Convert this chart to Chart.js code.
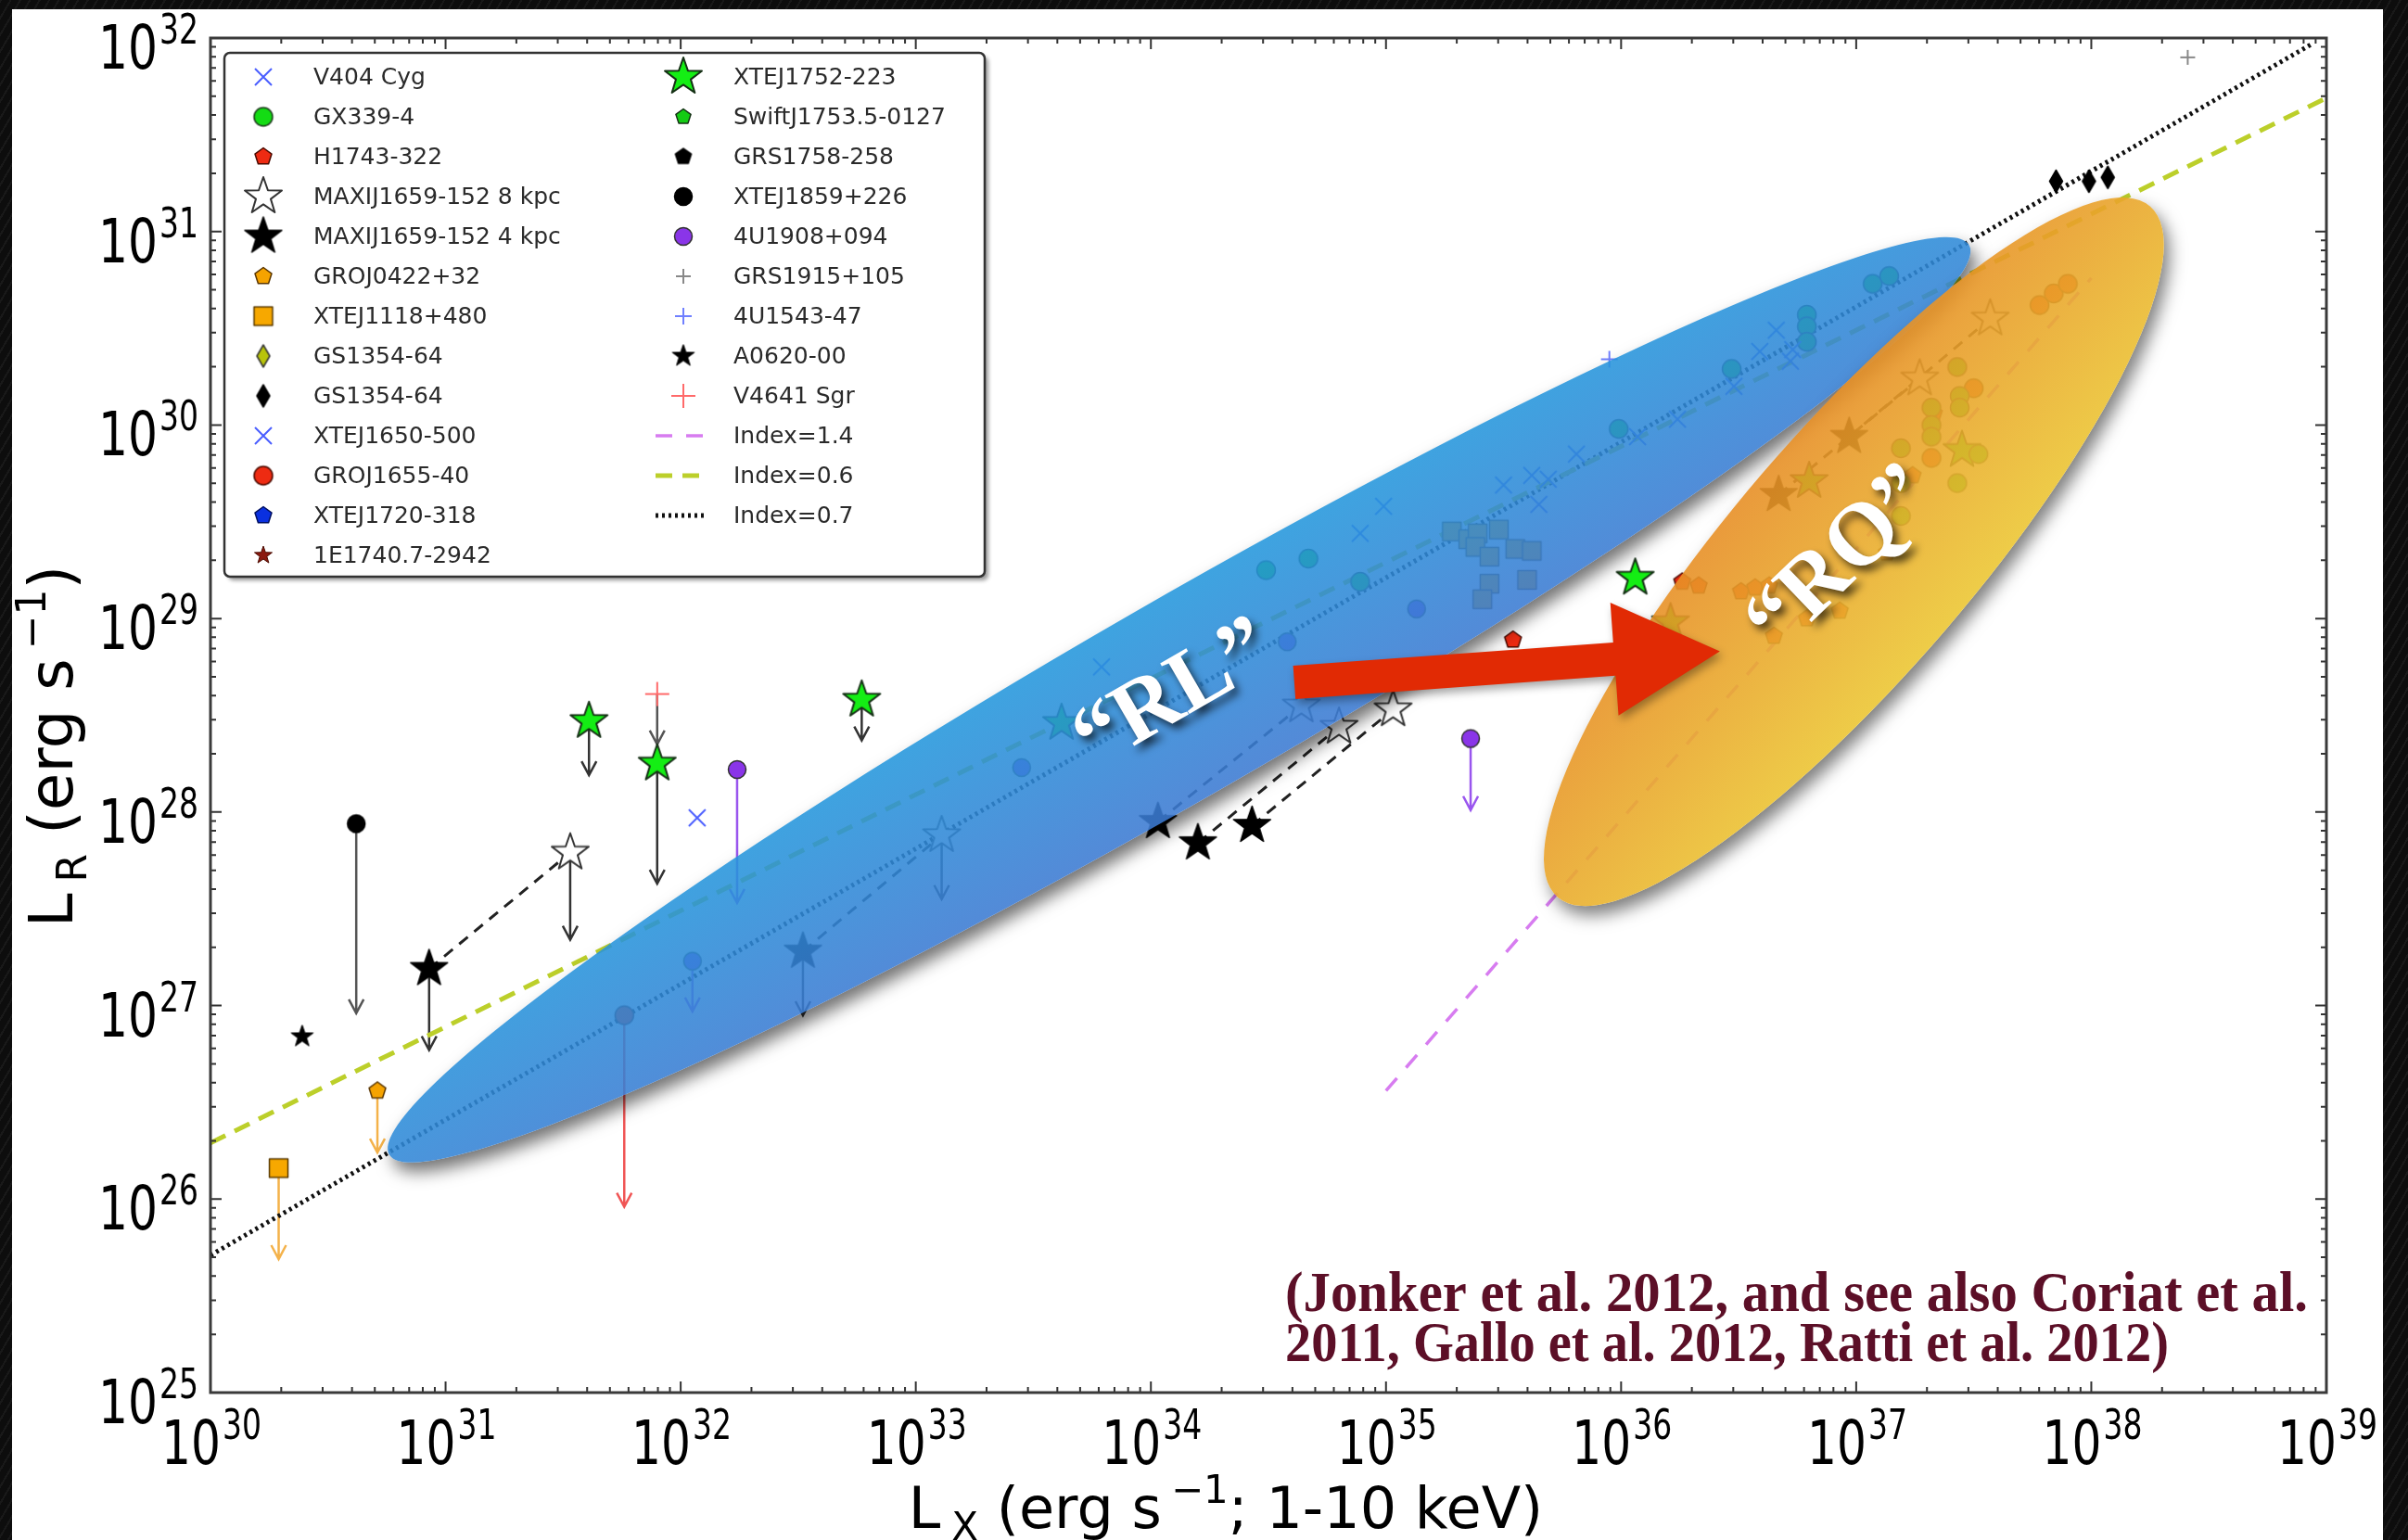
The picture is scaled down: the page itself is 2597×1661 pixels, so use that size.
<!DOCTYPE html>
<html>
<head>
<meta charset="utf-8">
<title>Radio / X-ray luminosity</title>
<script src="https://cdn.jsdelivr.net/npm/chart.js@4.4.1/dist/chart.umd.min.js"></script>
<style>
  html, body { margin: 0; padding: 0; }
  body {
    width: 2597px; height: 1661px; overflow: hidden;
    background-color: #0d0d0d;
    background-image: repeating-linear-gradient(120deg, rgba(255,255,255,0.05) 0 2px, transparent 2px 9px);
  }
  canvas { position: absolute; left: 0; top: 0; }
</style>
</head>
<body>
<canvas id="chart" width="2597" height="1661"></canvas>
<script>
// values are log10 of the luminosities:
// [log Lx, log Lr] or [log Lx, log Lr, log Lr at the tip of the upper-limit arrow]
const v404Cyg = [[33.79,28.75],[34.89,29.44],[34.99,29.58],[35.50,29.69],[35.62,29.74],[35.69,29.72],[35.65,29.59],[35.81,29.85],[36.07,29.94],[36.24,30.03],[36.48,30.20],[36.59,30.38],[36.66,30.49],[36.73,30.39],[36.72,30.33]];
const gx339 = [[34.49,29.25],[34.67,29.31],[34.89,29.19],[35.99,29.98],[36.47,30.29],[36.79,30.57],[36.79,30.51],[36.79,30.43],[37.07,30.73],[37.14,30.77],
  [37.43,30.30],[37.44,30.15],[37.44,30.09],[37.32,30.09],[37.32,30.00],[37.32,29.94],[37.19,29.88],[37.19,29.70],[37.43,29.70],[37.19,29.53],[37.52,29.85]];
const h1743 = [[35.54,28.89],[36.26,29.19],[36.33,29.17],[36.51,29.14],[36.57,29.16],[36.63,29.17],[36.79,29.00],[36.93,29.04],[36.65,28.91],[37.13,29.34],[37.24,29.74],[37.33,30.06]];
const maxi8 = [[31.53,27.79,27.34],[33.11,27.88,27.55],[34.64,28.55],[34.80,28.44],[35.03,28.53],[37.27,30.24],[37.57,30.55]];
const maxi4 = [[30.93,27.19,26.77],[32.52,27.28,26.95],[34.03,27.95],[34.20,27.84],[34.43,27.93],[36.67,29.64],[36.97,29.94]];
const groj0422 = [[30.71,26.56,26.24]];
const xte1118 = [[30.29,26.16,25.69],[35.28,29.45],[35.35,29.41],[35.39,29.44],[35.48,29.46],[35.38,29.37],[35.44,29.32],[35.55,29.36],[35.62,29.35],[35.44,29.18],[35.60,29.20],[35.41,29.10]];
const gs1354Olive = [];
const gs1354Black = [[37.85,31.26],[37.99,31.26],[38.07,31.28]];
const xte1650 = [[32.07,27.97]];
const groj1655 = [[31.76,26.95,25.96],[37.32,29.83],[37.50,30.19],[37.78,30.62],[37.84,30.68],[37.90,30.73]];
const xte1720 = [];
const e1740 = [];
const xte1752 = [[31.61,28.47,28.19],[31.90,28.25,27.63],[32.77,28.58,28.37],[33.62,28.46],[36.06,29.21],[36.21,28.98],[36.80,29.71],[37.45,29.87]];
const swift1753 = [];
const grs1758 = [];
const xte1859 = [[30.62,27.94,26.96]];
const u1908 = [[32.24,28.22,27.53],[35.36,28.38,28.01],[32.05,27.23,26.97],[35.13,29.05],[33.45,28.23],[34.58,28.88]];
const grs1915 = [[38.41,31.90]];
const u1543 = [[35.95,30.34]];
const a0620 = [[30.39,26.84]];
const v4641 = [[31.90,28.61,28.35]];

// correlation lines (end points)
const index14 = [[35.00,26.56],[38.00,30.76]];
const index06 = [[30.00,26.29],[39.00,31.69]];
const index07 = [[30.00,25.71],[38.94,31.97]];

const xDecades = [30,31,32,33,34,35,36,37,38,39];
const yDecades = [25,26,27,28,29,30,31,32];

// shaded regions, arrow and their labels, placed in (log) data space
const rlRegion = [[30.76,26.23],[37.48,30.93]];
const rqRegion = [[35.73,27.56],[38.25,31.13]];
const shiftArrow = [[34.61,28.67],[36.42,28.83]];
const rlLabelAt = [34.10,28.60];
const rqLabelAt = [36.94,29.30];

const W = 2597, H = 1661;
const SANS = '"DejaVu Sans"';

const pts = arr => arr.map(p => ({x: 10 ** p[0], y: 10 ** p[1], lim: p.length > 2 ? 10 ** p[2] : null}));

function marker(shape, r, fill, stroke, lw) {
  const c = document.createElement('canvas');
  c.width = c.height = Math.ceil(2 * (r + lw + 2));
  const g = c.getContext('2d');
  g.translate(c.width / 2, c.height / 2);
  g.lineWidth = lw;
  g.lineJoin = 'round';
  g.strokeStyle = stroke;
  g.beginPath();
  if (shape === 'x' || shape === 'plus') {
    if (shape === 'x') { g.moveTo(-r, -r); g.lineTo(r, r); g.moveTo(r, -r); g.lineTo(-r, r); }
    else { g.moveTo(-r, 0); g.lineTo(r, 0); g.moveTo(0, -r); g.lineTo(0, r); }
    g.stroke();
    return c;
  }
  if (shape === 'circle') g.arc(0, 0, r, 0, Math.PI * 2);
  else if (shape === 'square') g.rect(-r, -r, 2 * r, 2 * r);
  else if (shape === 'diamond') { g.moveTo(0, -r); g.lineTo(r * 0.58, 0); g.lineTo(0, r); g.lineTo(-r * 0.58, 0); g.closePath(); }
  else {
    const n = shape === 'star' ? 10 : 5;
    for (let i = 0; i < n; i++) {
      const rr = (shape === 'star' && i % 2) ? r * 0.4 : r;
      const a = -Math.PI / 2 + i * 2 * Math.PI / n;
      g.lineTo(rr * Math.cos(a), rr * Math.sin(a));
    }
    g.closePath();
  }
  g.fillStyle = fill;
  g.fill();
  g.stroke();
  return c;
}

const series = [
  {label: 'V404 Cyg', data: v404Cyg, mk: marker('x', 9, null, '#4a5eff', 2), col: 0},
  {label: 'GX339-4', data: gx339, mk: marker('circle', 10, '#14dc14', '#1d3a1d', 1.5), col: 0},
  {label: 'H1743-322', data: h1743, mk: marker('pentagon', 9.5, '#ee2b12', '#4a0a00', 1.5), col: 0},
  {label: 'MAXIJ1659-152 8 kpc', data: maxi8, mk: marker('star', 21, '#ffffff', '#333333', 2), col: 0, arrow: '#333'},
  {label: 'MAXIJ1659-152 4 kpc', data: maxi4, mk: marker('star', 21, '#000000', '#000000', 1.5), col: 0, arrow: '#333'},
  {label: 'GROJ0422+32', data: groj0422, mk: marker('pentagon', 9.5, '#f5a300', '#5a3600', 1.5), col: 0, arrow: '#f4b24a'},
  {label: 'XTEJ1118+480', data: xte1118, mk: marker('square', 10, '#f7a800', '#5a3a00', 1.5), col: 0, arrow: '#f4b24a'},
  {label: 'GS1354-64', data: gs1354Olive, mk: marker('diamond', 12, '#b8c40a', '#333333', 1.5), col: 0},
  {label: 'GS1354-64', data: gs1354Black, mk: marker('diamond', 12, '#000000', '#000000', 1.5), col: 0},
  {label: 'XTEJ1650-500', data: xte1650, mk: marker('x', 9, null, '#4a5eff', 2), col: 0},
  {label: 'GROJ1655-40', data: groj1655, mk: marker('circle', 10, '#ee2b12', '#4a0a00', 1.5), col: 0, arrow: '#f05555'},
  {label: 'XTEJ1720-318', data: xte1720, mk: marker('pentagon', 9.5, '#0a30e0', '#001060', 1.5), col: 0},
  {label: '1E1740.7-2942', data: e1740, mk: marker('star', 10, '#8b1a10', '#4a0a00', 1), col: 0},
  {label: 'XTEJ1752-223', data: xte1752, mk: marker('star', 21, '#14ee14', '#153015', 2), col: 1, arrow: '#333'},
  {label: 'SwiftJ1753.5-0127', data: swift1753, mk: marker('pentagon', 8.5, '#14cc14', '#153015', 1.5), col: 1},
  {label: 'GRS1758-258', data: grs1758, mk: marker('pentagon', 9, '#000000', '#000000', 1.5), col: 1},
  {label: 'XTEJ1859+226', data: xte1859, mk: marker('circle', 9.5, '#000000', '#000000', 1.5), col: 1, arrow: '#555'},
  {label: '4U1908+094', data: u1908, mk: marker('circle', 9.5, '#8a35e8', '#333333', 1.5), col: 1, arrow: '#9955ee'},
  {label: 'GRS1915+105', data: grs1915, mk: marker('plus', 8, null, '#888888', 2), col: 1},
  {label: '4U1543-47', data: u1543, mk: marker('plus', 9, null, '#7080ff', 2), col: 1},
  {label: 'A0620-00', data: a0620, mk: marker('star', 12.5, '#000000', '#000000', 1), col: 1},
  {label: 'V4641 Sgr', data: v4641, mk: marker('plus', 13, null, '#ff6a6a', 2), col: 1, arrow: '#555'}
];

const datasets = series.map(s => ({
  label: s.label, data: pts(s.data), pointStyle: s.mk, pointRadius: 8,
  arrowColor: s.arrow, legendCol: s.col, order: 1
}));

const line = (label, arr, color, dash, width) => ({
  label, data: pts(arr), showLine: true, borderColor: color, borderDash: dash,
  borderWidth: width, borderCapStyle: 'butt', pointRadius: 0, legendCol: 1, legendLine: true, order: 3
});
datasets.push(line('Index=1.4', index14, '#d77cf0', [18, 15], 3.5));
datasets.push(line('Index=0.6', index06, '#bccf2a', [18, 11], 5));
datasets.push(line('Index=0.7', index07, '#111111', [3, 4], 5));

// dashed links between the 4 kpc and 8 kpc versions of each MAXI J1659 point
maxi4.forEach((p, i) => {
  datasets.push({
    label: 'link', data: pts([p.slice(0, 2), maxi8[i].slice(0, 2)]), showLine: true,
    borderColor: '#222', borderDash: [12, 9], borderWidth: 3, pointRadius: 0, order: 2
  });
});

const toPx = (chart, p) => [chart.scales.x.getPixelForValue(10 ** p[0]), chart.scales.y.getPixelForValue(10 ** p[1])];

function region(chart, tips, b) {
  const [x1, y1] = toPx(chart, tips[0]);
  const [x2, y2] = toPx(chart, tips[1]);
  const cx = (x1 + x2) / 2, cy = (y1 + y2) / 2, ang = Math.atan2(y2 - y1, x2 - x1);
  const path = new Path2D();
  path.ellipse(cx, cy, Math.hypot(x2 - x1, y2 - y1) / 2, b, ang, 0, Math.PI * 2);
  return {path, cx, cy, ang, b};
}

function dropShadow(ctx, path, dx, dy, blur, color) {
  ctx.save();
  const outside = new Path2D();
  outside.rect(0, 0, W, H);
  outside.addPath(path);
  ctx.clip(outside, 'evenodd');
  const moved = new Path2D();
  moved.addPath(path, new DOMMatrix().translate(-4000, 0));
  ctx.shadowColor = color;
  ctx.shadowBlur = blur;
  ctx.shadowOffsetX = 4000 + dx;
  ctx.shadowOffsetY = dy;
  ctx.fillStyle = '#000';
  ctx.fill(moved);
  ctx.restore();
}

function shade(ctx, e, c1, c2, alpha) {
  const nx = Math.sin(e.ang), ny = -Math.cos(e.ang);
  const g = ctx.createLinearGradient(e.cx + nx * e.b, e.cy + ny * e.b, e.cx - nx * e.b, e.cy - ny * e.b);
  g.addColorStop(0, c1);
  g.addColorStop(1, c2);
  ctx.save();
  ctx.globalAlpha = alpha;
  ctx.fillStyle = g;
  ctx.fill(e.path);
  ctx.restore();
}

function drawShiftArrow(ctx, chart) {
  const [x1, y1] = toPx(chart, shiftArrow[0]);
  const [x2, y2] = toPx(chart, shiftArrow[1]);
  const len = Math.hypot(x2 - x1, y2 - y1);
  const shaft = 18, headW = 61, headL = 114;
  ctx.save();
  ctx.translate(x1, y1);
  ctx.rotate(Math.atan2(y2 - y1, x2 - x1));
  ctx.beginPath();
  ctx.moveTo(0, -shaft); ctx.lineTo(len - headL, -shaft); ctx.lineTo(len - headL, -headW);
  ctx.lineTo(len, 0); ctx.lineTo(len - headL, headW); ctx.lineTo(len - headL, shaft); ctx.lineTo(0, shaft);
  ctx.closePath();
  ctx.shadowColor = 'rgba(0,0,0,0.35)';
  ctx.shadowBlur = 10; ctx.shadowOffsetX = 3; ctx.shadowOffsetY = 5;
  ctx.fillStyle = '#e12a04';
  ctx.fill();
  ctx.restore();
}

function tag(ctx, chart, at, text, deg) {
  const [x, y] = toPx(chart, at);
  ctx.save();
  ctx.translate(x, y);
  ctx.rotate(deg * Math.PI / 180);
  ctx.font = 'bold 96px "Liberation Serif"';
  ctx.textAlign = 'center';
  ctx.textBaseline = 'middle';
  ctx.shadowColor = 'rgba(0,0,0,0.65)';
  ctx.shadowBlur = 8; ctx.shadowOffsetX = 5; ctx.shadowOffsetY = 6;
  ctx.fillStyle = '#ffffff';
  ctx.fillText(text, 0, 0);
  ctx.restore();
}

function drawRich(ctx, parts, x, y) {
  let w = 0;
  parts.forEach(p => { ctx.font = p.font; w += (p.gap || 0) + ctx.measureText(p.t).width; });
  let cx = x - w / 2;
  parts.forEach(p => {
    ctx.font = p.font;
    cx += p.gap || 0;
    ctx.fillText(p.t, cx, y + (p.dy || 0));
    cx += ctx.measureText(p.t).width;
  });
}

// text squeezed or stretched horizontally to span a given width
function fitText(ctx, text, x, y, width) {
  const w = ctx.measureText(text).width;
  ctx.save();
  ctx.translate(x, y);
  ctx.scale(width / w, 1);
  ctx.fillText(text, 0, 0);
  ctx.restore();
}

function power(ctx, e, left, baseY, expY) {
  ctx.textAlign = 'left';
  ctx.textBaseline = 'alphabetic';
  ctx.font = '66px ' + SANS;
  ctx.fillText('10', left, baseY, 64);
  ctx.font = '44px ' + SANS;
  ctx.fillText(String(e), left + 66, expY, 42);
}

function drawLegend(ctx, chart) {
  const bx = 242, by = 57, bw = 820, bh = 565;
  ctx.save();
  ctx.shadowColor = 'rgba(0,0,0,0.4)';
  ctx.shadowBlur = 4; ctx.shadowOffsetX = 4; ctx.shadowOffsetY = 4;
  ctx.fillStyle = '#ffffff';
  ctx.beginPath();
  ctx.roundRect(bx, by, bw, bh, 6);
  ctx.fill();
  ctx.restore();
  ctx.strokeStyle = '#333';
  ctx.lineWidth = 2.5;
  ctx.beginPath();
  ctx.roundRect(bx, by, bw, bh, 6);
  ctx.stroke();

  const cols = [[], []];
  chart.data.datasets.forEach(d => { if (d.legendCol !== undefined) cols[d.legendCol].push(d); });
  ctx.font = '25px ' + SANS;
  ctx.textBaseline = 'middle';
  ctx.textAlign = 'left';
  cols.forEach((list, ci) => {
    const mx = ci ? 737 : 284, tx = ci ? 791 : 338;
    list.forEach((d, i) => {
      const y = 83 + 43 * i;
      if (d.legendLine) {
        ctx.save();
        ctx.strokeStyle = d.borderColor;
        ctx.lineWidth = d.borderWidth;
        ctx.setLineDash(d.borderDash);
        ctx.beginPath(); ctx.moveTo(mx - 30, y); ctx.lineTo(mx + 24, y); ctx.stroke();
        ctx.restore();
      } else {
        const m = d.pointStyle;
        ctx.drawImage(m, mx - m.width / 2, y - m.height / 2);
      }
      ctx.fillStyle = '#2a2a2a';
      ctx.fillText(d.label, tx, y + 1);
    });
  });
}

const decor = {
  id: 'decor',
  beforeDraw(chart) {
    const ctx = chart.ctx;
    ctx.save();
    ctx.fillStyle = '#ffffff';
    ctx.fillRect(13, 10, 2557, H - 10);
    ctx.restore();
  },
  beforeDatasetsDraw(chart) {
    const ctx = chart.ctx;
    ctx.save();
    ctx.lineWidth = 2.5;
    chart.data.datasets.forEach((ds, i) => {
      if (!ds.arrowColor) return;
      chart.getDatasetMeta(i).data.forEach((el, j) => {
        const raw = ds.data[j];
        if (!raw.lim) return;
        const y2 = chart.scales.y.getPixelForValue(raw.lim);
        ctx.strokeStyle = ds.arrowColor;
        ctx.beginPath();
        ctx.moveTo(el.x, el.y); ctx.lineTo(el.x, y2);
        ctx.moveTo(el.x - 8, y2 - 15); ctx.lineTo(el.x, y2); ctx.lineTo(el.x + 8, y2 - 15);
        ctx.stroke();
      });
    });
    ctx.restore();
  },
  afterDatasetsDraw(chart) {
    const ctx = chart.ctx;
    const rl = region(chart, rlRegion, 106);
    const rq = region(chart, rqRegion, 130);
    dropShadow(ctx, rl.path, 6, 10, 18, 'rgba(0,0,0,0.55)');
    shade(ctx, rl, '#2497dc', '#3c7ad2', 0.88);
    dropShadow(ctx, rq.path, 6, 10, 18, 'rgba(0,0,0,0.5)');
    shade(ctx, rq, '#e78f26', '#ecc734', 0.9);
    drawShiftArrow(ctx, chart);
    tag(ctx, chart, rlLabelAt, '\u201CRL\u201D', -30);
    tag(ctx, chart, rqLabelAt, '\u201CRQ\u201D', -44);
  },
  afterDraw(chart) {
    const ctx = chart.ctx;
    const a = chart.chartArea;
    const xs = chart.scales.x, ys = chart.scales.y;
    ctx.save();

    // ticks, pointing inwards on all four sides
    ctx.strokeStyle = '#333';
    ctx.lineWidth = 2;
    ctx.beginPath();
    xDecades.forEach(e => {
      for (let m = 1; m < 10; m++) {
        if (e === 39 && m > 1) break;
        const x = xs.getPixelForValue(m * 10 ** e), len = m === 1 ? 12 : 6;
        ctx.moveTo(x, a.bottom); ctx.lineTo(x, a.bottom - len);
        ctx.moveTo(x, a.top); ctx.lineTo(x, a.top + len);
      }
    });
    yDecades.forEach(e => {
      for (let m = 1; m < 10; m++) {
        if (e === 32 && m > 1) break;
        const y = ys.getPixelForValue(m * 10 ** e), len = m === 1 ? 12 : 6;
        ctx.moveTo(a.left, y); ctx.lineTo(a.left + len, y);
        ctx.moveTo(a.right, y); ctx.lineTo(a.right - len, y);
      }
    });
    ctx.stroke();

    ctx.strokeStyle = '#3a3a3a';
    ctx.lineWidth = 3;
    ctx.strokeRect(a.left, a.top, a.right - a.left, a.bottom - a.top);

    // tick labels
    ctx.fillStyle = '#000';
    xDecades.forEach(e => {
      const x = xs.getPixelForValue(10 ** e);
      power(ctx, e, x - 53, a.bottom + 77, a.bottom + 50);
    });
    yDecades.forEach(e => {
      const y = ys.getPixelForValue(10 ** e);
      power(ctx, e, a.left - 121, y + 33, y + 6);
    });

    // axis titles
    ctx.textAlign = 'left';
    ctx.textBaseline = 'alphabetic';
    drawRich(ctx, [
      {t: 'L', font: '62px ' + SANS},
      {t: 'X', font: '42px ' + SANS, dy: 13, gap: 12},
      {t: ' (erg s', font: '62px ' + SANS},
      {t: '\u22121', font: '42px ' + SANS, dy: -27, gap: 10},
      {t: '; 1-10 keV)', font: '62px ' + SANS}
    ], 1322, 1648);
    ctx.save();
    ctx.translate(78, 805);
    ctx.rotate(-Math.PI / 2);
    drawRich(ctx, [
      {t: 'L', font: '66px ' + SANS},
      {t: 'R', font: '44px ' + SANS, dy: 15, gap: 12},
      {t: ' (erg s', font: '66px ' + SANS},
      {t: '\u22121', font: '44px ' + SANS, dy: -29, gap: 10},
      {t: ')', font: '66px ' + SANS}
    ], 0, 0);
    ctx.restore();

    drawLegend(ctx, chart);

    // reference note
    ctx.fillStyle = '#5c0f27';
    ctx.font = 'bold 62px "Liberation Serif"';
    ctx.textAlign = 'left';
    fitText(ctx, '(Jonker et al. 2012, and see also Coriat et al.', 1386, 1398, 1103);
    fitText(ctx, '2011, Gallo et al. 2012, Ratti et al. 2012)', 1386, 1452, 953);
    ctx.restore();
  }
};

new Chart(document.getElementById('chart'), {
  type: 'scatter',
  data: {datasets},
  options: {
    responsive: false,
    animation: false,
    devicePixelRatio: 1,
    events: [],
    layout: {padding: {left: 227, right: 88, top: 41, bottom: 159}},
    scales: {
      x: {type: 'logarithmic', min: 1e30, max: 1e39, display: false},
      y: {type: 'logarithmic', min: 1e25, max: 1e32, display: false}
    },
    plugins: {legend: {display: false}, tooltip: {enabled: false}}
  },
  plugins: [decor]
});
</script>
</body>
</html>
